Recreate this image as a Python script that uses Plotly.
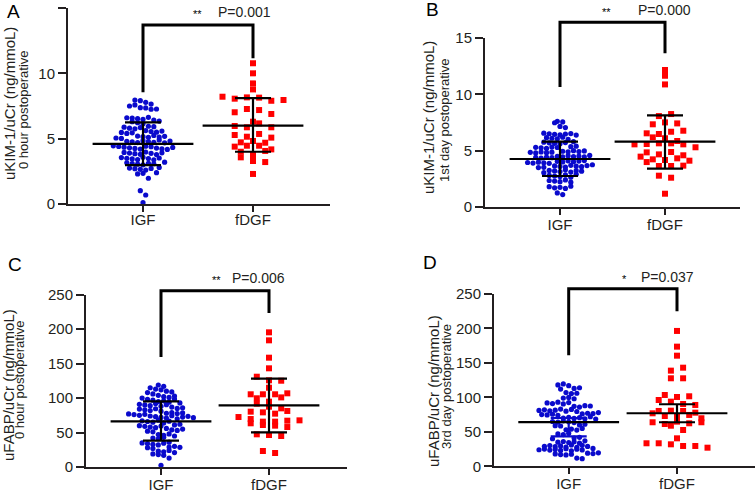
import plotly.graph_objects as go

W, H = 756, 496

# ---------------- data ----------------
groups = ["IGF", "fDGF"]
panel_letters = ["A", "B", "C", "D"]
y_titles = ["uKIM-1/uCr (ng/mmoL)", "uKIM-1/uCr (ng/mmoL)",
            "uFABP/uCr (ng/mmoL)", "uFABP/uCr (ng/mmoL)"]
y_subtitles = ["0 hour postoperative", "1st day postoperative",
               "0 hour postoperative", "3rd day postoperative"]
p_labels = ["P=0.001", "P=0.000", "P=0.006", "P=0.037"]
stars = ["**", "**", "**", "*"]
ticks_kim = [0, 5, 10, 15]
ticks_fabp = [0, 50, 100, 150, 200, 250]

A_igf = [7.96, 7.91, 7.78, 7.65, 7.50, 7.58, 7.37, 7.35, 7.25, 7.27,
         6.60, 6.58, 6.53, 6.48, 6.63, 6.43, 6.30, 6.22, 6.15, 6.35,
         5.95, 5.88, 5.80, 5.92, 5.75, 5.85, 5.62, 5.55, 5.48, 5.50,
         5.40, 5.58, 5.45, 5.20, 5.15, 5.10, 5.05, 5.25, 5.12, 5.18,
         5.02, 4.80, 4.75, 4.70, 4.85, 4.78, 4.72, 4.90, 4.68, 4.82,
         4.45, 4.40, 4.35, 4.30, 4.25, 4.20, 4.42, 4.38, 4.28, 4.22,
         4.18, 4.33, 3.95, 3.90, 3.85, 3.80, 3.98, 3.88, 3.78, 3.92,
         3.55, 3.50, 3.45, 3.40, 3.58, 3.48, 3.38, 3.52, 3.15, 3.10,
         3.05, 3.20, 3.00, 3.12, 3.08, 2.75, 2.70, 2.65, 2.80, 2.60,
         2.72, 2.40, 2.30, 2.35, 1.97, 1.02, 0.69, 0.10]
A_fdgf = [10.77, 10.0, 9.23, 8.77, 8.21, 8.06, 8.16, 8.14, 7.90, 7.96,
          7.02, 7.27, 7.19, 6.89, 5.97, 6.30, 5.87, 6.17, 5.87, 5.28,
          5.15, 5.36, 4.72, 5.08, 4.82, 4.69, 4.39, 4.46, 4.46, 4.0,
          3.75, 4.18, 4.06, 3.57, 3.29, 3.21, 2.30]

B_igf = [7.60, 7.55, 7.48, 7.15, 7.05, 6.55, 6.50, 6.45, 6.40, 6.48,
         6.52, 6.38, 6.15, 6.10, 6.05, 6.20, 6.00, 5.75, 5.70, 5.65,
         5.80, 5.62, 5.72, 5.35, 5.30, 5.25, 5.40, 5.20, 5.32, 5.28,
         4.95, 4.90, 4.85, 5.00, 4.80, 4.92, 4.88, 4.98, 4.82, 4.87,
         4.50, 4.45, 4.40, 4.55, 4.35, 4.48, 4.42, 4.52, 4.38, 4.46,
         4.58, 4.05, 4.00, 3.95, 4.10, 3.90, 4.02, 3.98, 4.08, 3.92,
         4.12, 3.88, 3.65, 3.60, 3.55, 3.70, 3.50, 3.62, 3.58, 3.68,
         3.52, 3.75, 3.25, 3.20, 3.15, 3.30, 3.10, 3.22, 3.18, 3.05,
         2.80, 2.75, 2.70, 2.85, 2.65, 2.90, 2.35, 2.30, 2.25, 2.40,
         2.20, 1.80, 1.70, 1.75, 1.65, 1.85, 1.25, 1.10]
B_fdgf = [12.16, 11.65, 10.88, 8.07, 8.25, 7.34, 7.51, 7.42, 6.54, 6.48,
          6.68, 6.77, 6.18, 6.10, 5.56, 5.59, 5.65, 5.86, 5.65, 5.56,
          5.30, 4.85, 4.67, 4.88, 4.47, 4.23, 4.17, 4.32, 4.11, 4.59,
          3.99, 3.64, 3.64, 3.67, 2.78, 2.60, 1.18]

C_igf = [119, 117, 115, 113, 112, 110, 108, 106, 104, 109,
         102, 100, 101, 98, 103, 97, 95, 96, 94, 98.5,
         93, 91, 90, 89, 92, 88, 90.5, 87, 85, 84,
         83, 86, 82, 84.5, 81, 78, 77, 76, 79, 75,
         77.5, 78.5, 76.5, 74, 73, 72, 71, 74.5, 70, 72.5,
         73.5, 71.5, 67, 66, 65, 68, 64, 66.5, 60, 59,
         58, 61, 57, 59.5, 62, 56, 54, 53, 52, 55,
         51, 47, 46, 48, 45, 42, 41, 43, 35, 34,
         33, 36, 32, 34.5, 29, 28, 27, 30, 28.5, 23,
         22, 24, 21, 19, 18, 17, 13, 2.5]
C_fdgf = [195.4, 183.8, 158.6, 143.2, 131.0, 125.8, 125.2, 115.0, 105.5, 105.5,
          105.5, 106.9, 99.7, 94.8, 91.9, 87.5, 85.1, 80.3, 79.3, 77.4,
          81.3, 72.5, 69.6, 65.8, 63.4, 65.8, 67.2, 67.7, 60.9, 60.0,
          58.0, 47.4, 46.4, 45.0, 23.2, 20.3, 101.0]

D_igf = [118, 119.5, 117, 113, 112, 114, 107, 105.5, 106, 99,
         100, 98, 92, 91, 93, 90.5, 92.5, 87, 86, 88,
         87.5, 81, 82, 80.5, 81.5, 83, 80, 82.5, 79.5, 76,
         75, 77, 74.5, 76.5, 75.5, 78, 74, 70, 71, 69.5,
         70.5, 69, 72, 68.5, 65, 64, 66, 64.5, 63.5, 60,
         59, 58.5, 61, 53, 54, 52.5, 55, 47, 46, 48,
         41, 42, 40, 35, 36, 34.5, 35.5, 33.5, 37, 29,
         30, 28.5, 29.5, 28, 31, 27.5, 30.5, 28.8, 24, 25,
         23.5, 24.5, 23, 25.5, 22.5, 26, 24.8, 23.8, 18, 17,
         19, 16.5, 18.5, 17.5, 19.5, 12, 11]
D_fdgf = [196.4, 173.6, 160.5, 138.8, 143.1, 127.7, 127.7, 103.5, 96.2, 100.6,
          101.6, 93.8, 90.4, 89.0, 76.9, 73.0, 80.3, 80.7, 80.3, 77.8,
          72.0, 74.5, 69.7, 63.9, 61.4, 64.8, 58.9, 62.4, 63.9, 52.7,
          40.6, 33.4, 33.4, 31.9, 29.5, 29.5, 27.0]

# mean and error bar ends [IGF, fDGF]
A_mean = [4.60, 6.00]; A_lo = [2.98, 4.00]; A_hi = [6.25, 8.10]
B_mean = [4.26, 5.80]; B_lo = [2.75, 3.40]; B_hi = [5.80, 8.13]
C_mean = [66.3, 89.5]; C_lo = [38.2, 50.3]; C_hi = [95.3, 128.3]
D_mean = [64.0, 77.0]; D_lo = [43.5, 63.9]; D_hi = [70.1, 90.0]

# significance brackets: top, left leg end, right leg end (data units)
A_bracket = [13.7, 8.55, 11.15]
B_bracket = [16.4, 10.65, 13.65]
C_bracket = [255.8, 159.6, 223.5]
D_bracket = [257.7, 161.0, 225.0]

# ---------------- layout geometry (px) ----------------
geo = [
    dict(x0=68, x1=330, ybot=204, ytop=8, c0=143, c1=253, ymax=15, ticks=ticks_kim,
         letter=(13, 12), t1=(9, 104), t2=(23, 110), star=(197, 14), p=(216, 12),
         xstand=-5, data=(A_igf, A_fdgf), mean=A_mean, lo=A_lo, hi=A_hi, br=A_bracket),
    dict(x0=485, x1=740, ybot=207, ytop=38, c0=560, c1=665, ymax=15, ticks=ticks_kim,
         letter=(432, 10), t1=(428, 118), t2=(444, 120), star=(606, 12), p=(636, 10),
         xstand=-3, data=(B_igf, B_fdgf), mean=B_mean, lo=B_lo, hi=B_hi, br=B_bracket),
    dict(x0=86, x1=347, ybot=467, ytop=294.7, c0=161, c1=269, ymax=250, ticks=ticks_fabp,
         letter=(15, 264), t1=(8, 385), t2=(19, 380), star=(216, 280), p=(230, 278),
         xstand=-3, data=(C_igf, C_fdgf), mean=C_mean, lo=C_lo, hi=C_hi, br=C_bracket),
    dict(x0=494, x1=755, ybot=466.3, ytop=294, c0=568.7, c1=677, ymax=250, ticks=ticks_fabp,
         letter=(430, 262), t1=(433, 391), t2=(446, 387), star=(624.5, 279), p=(638.7, 277),
         xstand=-3, data=(D_igf, D_fdgf), mean=D_mean, lo=D_lo, hi=D_hi, br=D_bracket),
]

BLUE = "#0a0acc"
RED = "#ff0000"
INK = "#231f20"
FONT = "Arial, Liberation Sans, sans-serif"


def row_offsets(values, ppu_y, ppu_x, row_h, spacing):
    """GraphPad-like scatter: points whose values lie within row_h px share a row
    and are spread side by side, centred on the group position."""
    order = sorted(range(len(values)), key=lambda i: values[i])
    rows, cur, start = [], [], None
    for i in order:
        y = values[i] * ppu_y
        if cur and y - start > row_h:
            rows.append(cur)
            cur = []
        if not cur:
            start = y
        cur.append(i)
    if cur:
        rows.append(cur)
    xs = [0.0] * len(values)
    for r in rows:
        r = sorted(r)  # keep input order inside a row
        n = len(r)
        for j, i in enumerate(r):
            xs[i] = (j - (n - 1) / 2) * spacing / ppu_x
    return xs


def px2px(x):
    return x / W


def py2py(y):
    return 1 - y / H


fig = go.Figure()
layout = dict(width=W, height=H,
              margin=dict(l=0, r=0, t=0, b=0, pad=0, autoexpand=False),
              autosize=False,
              paper_bgcolor="white", plot_bgcolor="white", showlegend=False,
              font=dict(family=FONT, color=INK))
shapes = []
annotations = []

for k, g in enumerate(geo):
    n = "" if k == 0 else str(k + 1)
    xa, ya = "x" + n, "y" + n
    ppu_x = g["c1"] - g["c0"]
    ppu_y = (g["ybot"] - g["ytop"]) / g["ymax"]
    xr = [(g["x0"] - g["c0"]) / ppu_x, (g["x1"] - g["c0"]) / ppu_x]
    ydom = [py2py(g["ybot"]), py2py(g["ytop"])]

    layout["xaxis" + n] = dict(domain=[px2px(g["x0"]), px2px(g["x1"])], range=xr,
                               anchor=ya, tickvals=[0, 1], ticktext=groups,
                               ticks="outside", ticklen=6, tickwidth=2, tickcolor=INK,
                               showline=True, linewidth=2, linecolor=INK,
                               showgrid=False, zeroline=False, automargin=False,
                               ticklabelstandoff=g["xstand"],
                               tickfont=dict(size=15, color=INK, family=FONT))
    layout["yaxis" + n] = dict(domain=ydom, range=[0, g["ymax"]], anchor=xa,
                               tickvals=g["ticks"], ticks="outside", ticklen=8,
                               tickwidth=2, tickcolor=INK, showline=True, linewidth=2,
                               linecolor=INK, showgrid=False, zeroline=False,
                               automargin=False,
                               tickfont=dict(size=15, color=INK, family=FONT))

    igf, fdgf = g["data"]
    off_i = row_offsets(igf, ppu_y, ppu_x, 5.0, 5.4)
    off_f = row_offsets(fdgf, ppu_y, ppu_x, 5.0, 12.2)
    fig.add_trace(go.Scatter(x=[0 + o for o in off_i], y=igf, mode="markers",
                             xaxis=xa, yaxis=ya, cliponaxis=False,
                             marker=dict(symbol="circle", size=5.2, color=BLUE)))
    fig.add_trace(go.Scatter(x=[1 + o for o in off_f], y=fdgf, mode="markers",
                             xaxis=xa, yaxis=ya, cliponaxis=False,
                             marker=dict(symbol="square", size=6, color=RED)))
    for j in range(2):
        ecol = BLUE if (k == 3 and j == 0) else "black"
        m = g["mean"][j]
        fig.add_trace(go.Scatter(
            x=[j], y=[m], mode="markers", xaxis=xa, yaxis=ya, cliponaxis=False,
            marker=dict(symbol="line-ew", size=72, color="black",
                        line=dict(width=2.2, color="black")),
            error_y=dict(type="data", symmetric=False, array=[g["hi"][j] - m],
                         arrayminus=[m - g["lo"][j]], width=18, thickness=2.2,
                         color=ecol)))

    # bracket
    def dpaper(v):
        return ydom[0] + v / g["ymax"] * (ydom[1] - ydom[0])
    top, lft, rgt = g["br"]
    shapes.append(dict(type="path", xref=xa, yref="paper",
                       path=f"M 0,{dpaper(lft)} L 0,{dpaper(top)} L 1,{dpaper(top)} L 1,{dpaper(rgt)}",
                       line=dict(color="black", width=3)))

    annotations += [
        dict(text=panel_letters[k], x=px2px(g["letter"][0]), y=py2py(g["letter"][1]),
             xref="paper", yref="paper", showarrow=False, xanchor="center", yanchor="middle",
             font=dict(size=19, color="black", family=FONT)),
        dict(text=y_titles[k], x=px2px(g["t1"][0]), y=py2py(g["t1"][1]), textangle=-90,
             xref="paper", yref="paper", showarrow=False, xanchor="center", yanchor="middle",
             font=dict(size=15, color=INK, family=FONT)),
        dict(text=y_subtitles[k], x=px2px(g["t2"][0]), y=py2py(g["t2"][1]), textangle=-90,
             xref="paper", yref="paper", showarrow=False, xanchor="center", yanchor="middle",
             font=dict(size=13, color=INK, family=FONT)),
        dict(text=stars[k], x=px2px(g["star"][0]), y=py2py(g["star"][1]),
             xref="paper", yref="paper", showarrow=False, xanchor="center", yanchor="middle",
             font=dict(size=11, color="black", family=FONT)),
        dict(text=p_labels[k], x=px2px(g["p"][0]), y=py2py(g["p"][1]),
             xref="paper", yref="paper", showarrow=False, xanchor="left", yanchor="middle",
             font=dict(size=14, color=INK, family=FONT)),
    ]

layout["shapes"] = shapes
layout["annotations"] = annotations
fig.update_layout(**layout)
fig.write_html("out.html", config={"displayModeBar": False},
               post_script="document.body.style.margin='0';document.body.style.padding='0';")
